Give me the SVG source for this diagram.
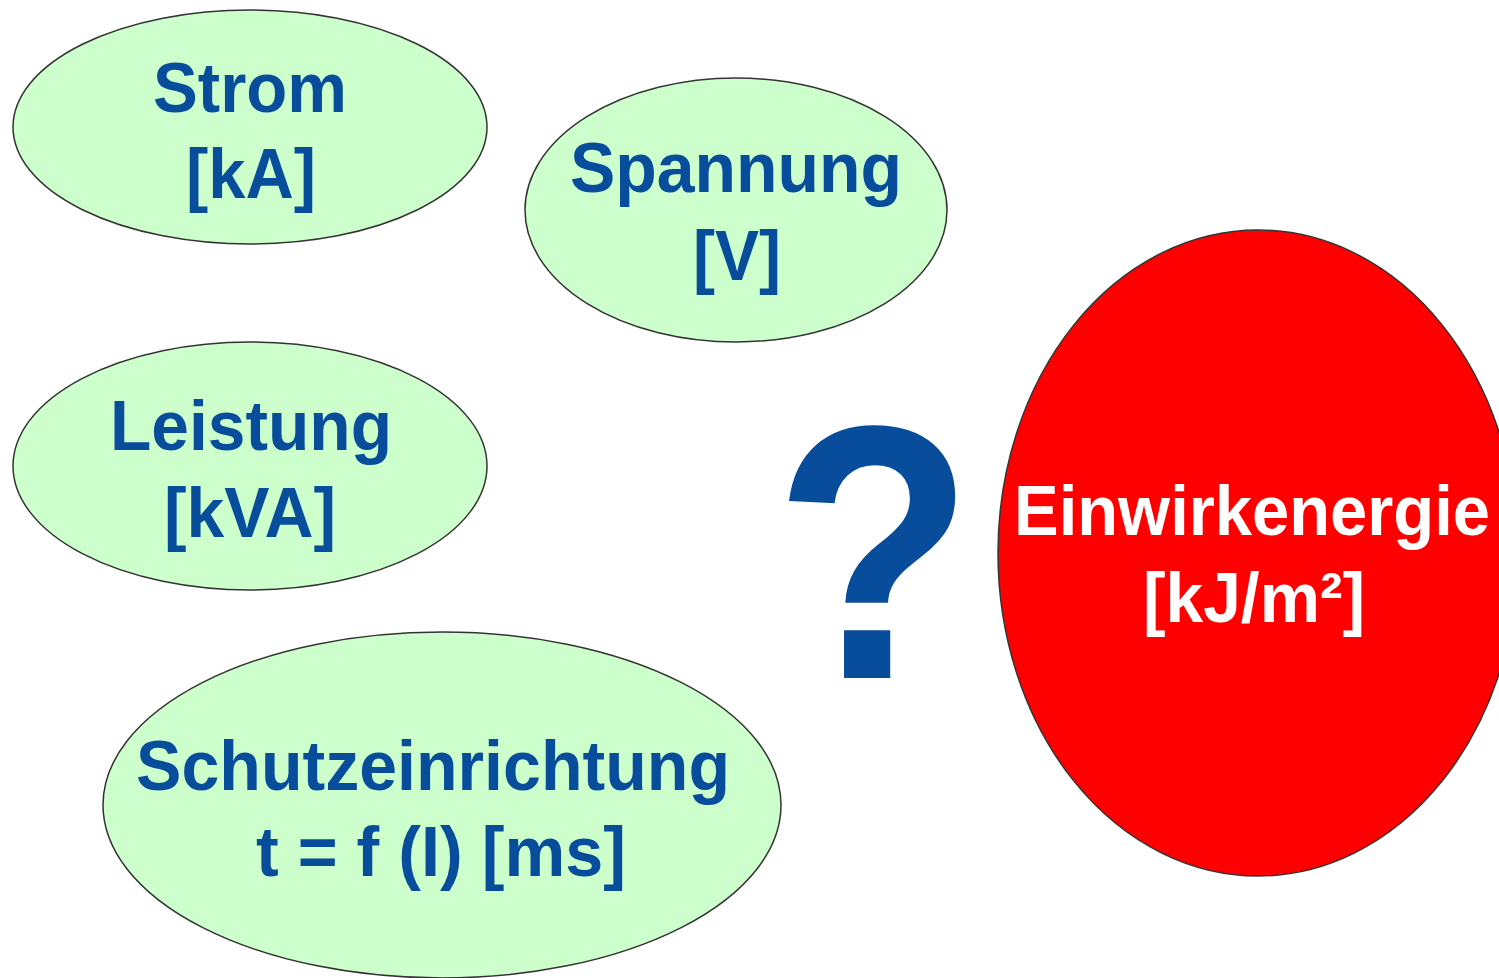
<svg xmlns="http://www.w3.org/2000/svg" width="1499" height="978" viewBox="0 0 1499 978">
<style>
.g{fill:#ccffcc;stroke:#333;stroke-width:1.5}
.r{fill:#ff0000;stroke:#333;stroke-width:1.5}
.t{font-family:"Liberation Sans",Arial,sans-serif;font-weight:bold;font-size:70px;fill:#084c9c;text-anchor:middle}
.w{fill:#ffffff}
</style>
<rect width="1499" height="978" fill="#ffffff"/>
<g id="strom">
<ellipse class="g" cx="250" cy="127" rx="237" ry="117"/>
<text class="t" x="250" y="112" textLength="194" lengthAdjust="spacingAndGlyphs">Strom</text>
<text class="t" x="251" y="198" textLength="130" lengthAdjust="spacingAndGlyphs">[kA]</text>
</g>
<g id="spannung">
<ellipse class="g" cx="736" cy="210" rx="211" ry="132"/>
<text class="t" x="736" y="192" textLength="332" lengthAdjust="spacingAndGlyphs">Spannung</text>
<text class="t" x="737" y="280" textLength="88" lengthAdjust="spacingAndGlyphs">[V]</text>
</g>
<g id="leistung">
<ellipse class="g" cx="250" cy="466" rx="237" ry="124"/>
<text class="t" x="251" y="450" textLength="282" lengthAdjust="spacingAndGlyphs">Leistung</text>
<text class="t" x="250" y="537" textLength="172" lengthAdjust="spacingAndGlyphs">[kVA]</text>
</g>
<g id="schutz">
<ellipse class="g" cx="442" cy="805" rx="339" ry="173"/>
<text class="t" x="433" y="790" textLength="594" lengthAdjust="spacingAndGlyphs">Schutzeinrichtung</text>
<text class="t" x="441" y="876" textLength="370" lengthAdjust="spacingAndGlyphs">t = f (I) [ms]</text>
</g>
<g id="energie">
<ellipse class="r" cx="1258" cy="553" rx="260" ry="323"/>
<text class="t w" x="1252" y="535" textLength="476" lengthAdjust="spacingAndGlyphs">Einwirkenergie</text>
<text class="t w" x="1254" y="622" textLength="222" lengthAdjust="spacingAndGlyphs">[kJ/m²]</text>
</g>
<g id="frage">
<text class="t" x="874" y="678" style="font-size:362px" textLength="200" lengthAdjust="spacingAndGlyphs">?</text>
</g>
<g id="connectors"/>
</svg>
